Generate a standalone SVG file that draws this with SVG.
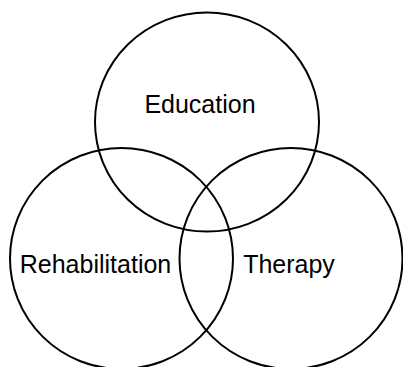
<svg xmlns="http://www.w3.org/2000/svg" width="403" height="367" viewBox="0 0 403 367">
<style>
.c{fill:none;stroke:#000;stroke-width:2}
.t{font-family:"Liberation Sans",Arial,sans-serif;font-size:25px;fill:#000;text-anchor:middle}
</style>
<rect width="403" height="367" fill="#fff"/>
<g id="education"><ellipse class="c" cx="207" cy="122" rx="112" ry="109.5"/><text class="t" x="200" y="113">Education</text></g>
<g id="rehabilitation"><ellipse class="c" cx="121.5" cy="258.5" rx="111.5" ry="110.5"/><text class="t" x="95.5" y="273">Rehabilitation</text></g>
<g id="therapy"><ellipse class="c" cx="291" cy="258.5" rx="111.5" ry="110.5"/><text class="t" x="289" y="273">Therapy</text></g>
</svg>
